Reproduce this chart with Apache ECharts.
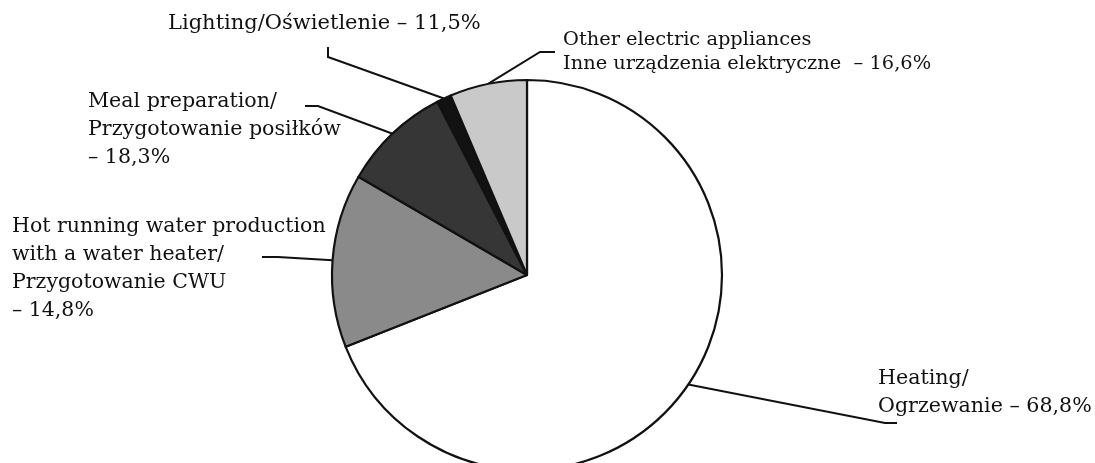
<!DOCTYPE html>
<html>
<head>
<meta charset="utf-8">
<script src="https://cdn.jsdelivr.net/npm/echarts@6/dist/echarts.min.js"></script>
<style>
html,body{margin:0;padding:0;background:#fff;}
#c{width:1095px;height:463px;}
</style>
</head>
<body>
<div id="c"></div>
<script>
// Slice shares (clockwise from 12 o'clock)
const categories = ['Heating', 'Hot running water', 'Meal preparation', 'Lighting', 'Other electric appliances'];
const shares = [69.0, 14.4, 9.0, 1.2, 6.4];
const labelTexts = [
  'Heating/\nOgrzewanie – 68,8%',
  'Hot running water production\nwith a water heater/\nPrzygotowanie CWU\n– 14,8%',
  'Meal preparation/\nPrzygotowanie posiłków\n– 18,3%',
  'Lighting/Oświetlenie – 11,5%',
  'Other electric appliances\nInne urządzenia elektryczne  – 16,6%'
];

const colors = ['#ffffff', '#8a8a8a', '#363636', '#121212', '#c9c9c9'];
// label anchor (x, y top), font, and label line bend/end points
const layouts = [
  {x: 878, y: 365, fs: 20.6, lh: 28, p1: [885, 423], p2: [897, 423]},
  {x: 12,  y: 213, fs: 20.5, lh: 28, p1: [278, 257], p2: [262, 257]},
  {x: 88,  y: 88,  fs: 20.6, lh: 28, p1: [318, 106], p2: [305, 106]},
  {x: 168, y: 10,  fs: 21,   lh: 28, p1: [328, 57],  p2: [328, 47]},
  {x: 563, y: 28,  fs: 19.4, lh: 24, p1: [540, 52],  p2: [555, 52]}
];

const chart = echarts.init(document.getElementById('c'), null, {renderer: 'canvas'});
const data = categories.map((name, i) => ({
  name: name,
  value: shares[i],
  itemStyle: {color: colors[i]},
  label: {formatter: labelTexts[i], lineHeight: layouts[i].lh, fontSize: layouts[i].fs}
}));

chart.setOption({
  animation: false,
  backgroundColor: '#ffffff',
  series: [{
    type: 'pie',
    center: [527, 275],
    radius: [0, 195],
    startAngle: 90,
    clockwise: true,
    data: data,
    itemStyle: {borderColor: '#111', borderWidth: 2.2},
    label: {
      show: true,
      position: 'outside',
      fontFamily: 'DejaVu Serif',
      fontSize: 21,
      color: '#111',
      align: 'left',
      overflow: 'none',
      edgeDistance: 0
    },
    labelLine: {show: true, lineStyle: {color: '#111', width: 2}},
    emphasis: {disabled: true},
    labelLayout: function (params) {
      const L = layouts[params.dataIndex];
      const p0 = params.labelLinePoints ? params.labelLinePoints[0] : [0, 0];
      return {
        x: L.x,
        y: L.y,
        align: 'left',
        verticalAlign: 'top',
        labelLinePoints: [p0, L.p1, L.p2]
      };
    }
  }]
});
</script>
</body>
</html>
